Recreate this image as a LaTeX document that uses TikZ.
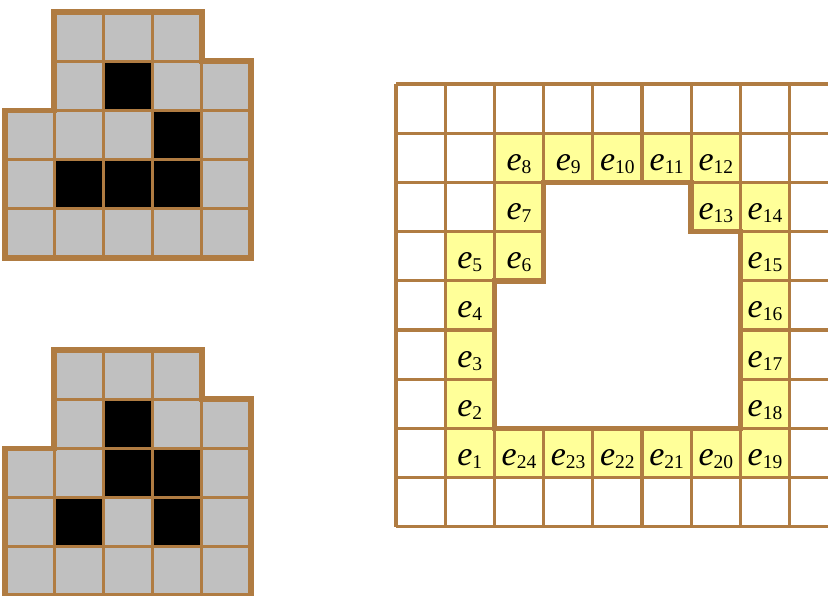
\documentclass[tikz,border=0pt]{standalone}
\usepackage{fontspec}
\setmainfont{Liberation Serif}
\definecolor{brn}{RGB}{176,124,66}
\definecolor{gry}{RGB}{192,192,192}
\definecolor{ylw}{RGB}{255,255,153}
\newcommand\elab[1]{\fontsize{34}{34}\selectfont\textit{e}\raisebox{-3pt}{\fontsize{19.5}{19.5}\selectfont #1}}
\newcommand\mygrid[3]{%
  \begin{scope}[shift={(#1,#2)}]
    \foreach \c/\r in {1/0,2/0,3/0,1/1,2/1,3/1,4/1,0/2,1/2,2/2,3/2,4/2,0/3,1/3,2/3,3/3,4/3,0/4,1/4,2/4,3/4,4/4}
      \fill[gry] (\c*\s,\r*\s) rectangle ++(\s,\s);
    \foreach \c/\r in {#3}
      \fill[black] (\c*\s,\r*\s) rectangle ++(\s,\s);
    \foreach \c/\r in {1/0,2/0,3/0,1/1,2/1,3/1,4/1,0/2,1/2,2/2,3/2,4/2,0/3,1/3,2/3,3/3,4/3,0/4,1/4,2/4,3/4,4/4}
      \draw[thinln] (\c*\s,\r*\s) rectangle ++(\s,\s);
    \draw[thickln] (\s,0) -- (4*\s,0) -- (4*\s,\s) -- (5*\s,\s) -- (5*\s,5*\s) -- (0,5*\s) -- (0,2*\s) -- (\s,2*\s) -- cycle;
  \end{scope}}
\begin{document}
\begin{tikzpicture}[x=1pt,y=-1pt,
  thinln/.style={draw=brn,line width=3.2pt},
  thickln/.style={draw=brn,line width=5.5pt,line join=miter},
  lbl/.style={anchor=base,inner sep=0pt}]
\def\s{49.2}
\useasboundingbox (0,0) rectangle (828,596);
\clip (0,0) rectangle (828,596);
% left grids
\mygrid{5}{12}{2/1,3/2,1/3,2/3,3/3}
\mygrid{5}{350}{2/1,2/2,3/2,1/3,3/3}
% right grid
\begin{scope}[shift={(396,84)}]
  \foreach \c/\r in {1/7,1/6,1/5,1/4,1/3,2/3,2/2,2/1,3/1,4/1,5/1,6/1,6/2,7/2,7/3,7/4,7/5,7/6,7/7,6/7,5/7,4/7,3/7,2/7}
    \fill[ylw] (\c*\s,\r*\s) rectangle ++(\s,\s);
  \foreach \i in {0,...,9}
    \draw[thinln] (\i*\s,0) -- (\i*\s,9*\s);
  \foreach \j in {0,...,9}
    \draw[thinln] (0,\j*\s) -- (10*\s,\j*\s);
  \fill[white] (3*\s,2*\s) -- (6*\s,2*\s) -- (6*\s,3*\s) -- (7*\s,3*\s) -- (7*\s,7*\s) -- (2*\s,7*\s) -- (2*\s,4*\s) -- (3*\s,4*\s) -- cycle;
  \draw[thickln] (3*\s,2*\s) -- (6*\s,2*\s) -- (6*\s,3*\s) -- (7*\s,3*\s) -- (7*\s,7*\s) -- (2*\s,7*\s) -- (2*\s,4*\s) -- (3*\s,4*\s) -- cycle;
  \foreach \n/\c/\r in {1/1/7,2/1/6,3/1/5,4/1/4,5/1/3,6/2/3,7/2/2,8/2/1,9/3/1,10/4/1,11/5/1,12/6/1,13/6/2,14/7/2,15/7/3,16/7/4,17/7/5,18/7/6,19/7/7,20/6/7,21/5/7,22/4/7,23/3/7,24/2/7}
    \node[lbl] (e\n) at ({(\c+0.5)*\s},{(\r+0.5)*\s+12.5}) {\elab{\n}};
\end{scope}
\end{tikzpicture}
\end{document}
